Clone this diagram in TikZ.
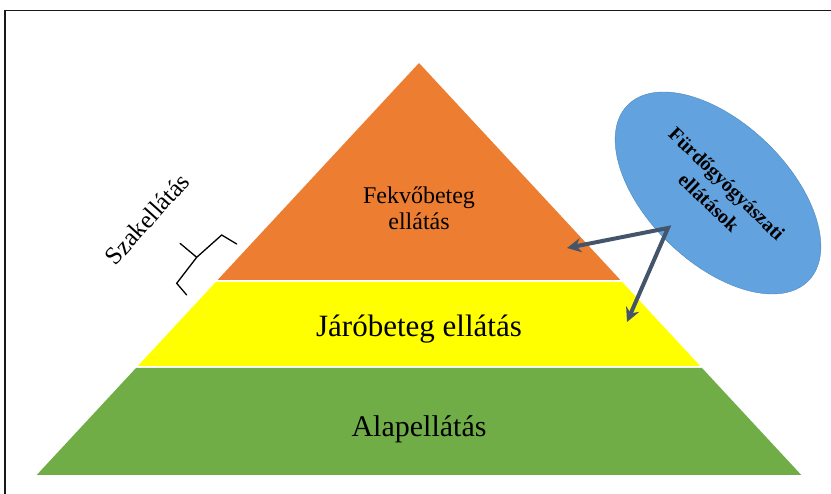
\documentclass[tikz,border=0pt]{standalone}
\usepackage{fontspec}
\setmainfont{Liberation Serif}
\usepackage{tikz}
\usetikzlibrary{arrows.meta,shapes.geometric}

\definecolor{orangeband}{HTML}{ED7D31}
\definecolor{yellowband}{HTML}{FFFF00}
\definecolor{greenband}{HTML}{70AD47}
\definecolor{bubble}{HTML}{62A3DF}
\definecolor{bubbleline}{HTML}{4F86BA}
\definecolor{arrowc}{HTML}{44546A}

\tikzset{
    band/.style={draw=none},
    lbl/.style={align=center, inner sep=0pt},
    pointer/.style={line width=4pt, color=arrowc, line join=miter,
        {Stealth[length=14pt, width=14pt]}-{Stealth[length=14pt, width=14pt]}}
}

\begin{document}
\begin{tikzpicture}[x=1pt, y=-1pt]
    \useasboundingbox (0,0) rectangle (831,494);
    \draw[line width=1.8pt, color=black!90] (5,494) -- (5,10.5) -- (831,10.5);

    % pyramid
    \fill[band, orangeband] (419,63) -- (217.6,280) -- (620.4,280) -- cycle;
    \fill[band, yellowband] (215.8,282) -- (622.2,282) -- (700.2,366) -- (137.8,366) -- cycle;
    \fill[band, greenband] (136,368) -- (702,368) -- (801.3,475) -- (36.7,475) -- cycle;

    \node[lbl, font=\fontsize{24}{26}\selectfont] (fekvo) at (419,208) {Fekvőbeteg\\ellátás};
    \node[lbl, font=\fontsize{31}{34}\selectfont] (jaro) at (419,329) {Járóbeteg ellátás};
    \node[lbl, font=\fontsize{30}{33}\selectfont] (alap) at (419,429) {Alapellátás};

    % bracket
    \node[lbl, rotate=48, font=\fontsize{25}{28}\selectfont] (szak) at (147,219) {Szakellátás};
    \draw[line width=1.3pt, line cap=round] (186.7,295) -- (176.7,283.3) -- (196.7,257.3)
          -- (221.7,235) -- (236.7,244);
    \draw[line width=1.3pt, line cap=round] (196.7,257.3) -- (180,243.3);

    % bubble
    \node[ellipse, draw=bubbleline, fill=bubble, minimum width=252pt, minimum height=140pt,
          rotate=-44, lbl, font=\bfseries\fontsize{20}{26}\selectfont] (furdo) at (718,193)
          {Fürdőgyógyászati\\ellátások};

    \coordinate (src) at (668,228);
    \coordinate (tip1) at (567,248);
    \coordinate (tip2) at (627,322);
    \draw[pointer] (tip1) -- (src) -- (tip2);
\end{tikzpicture}
\end{document}
